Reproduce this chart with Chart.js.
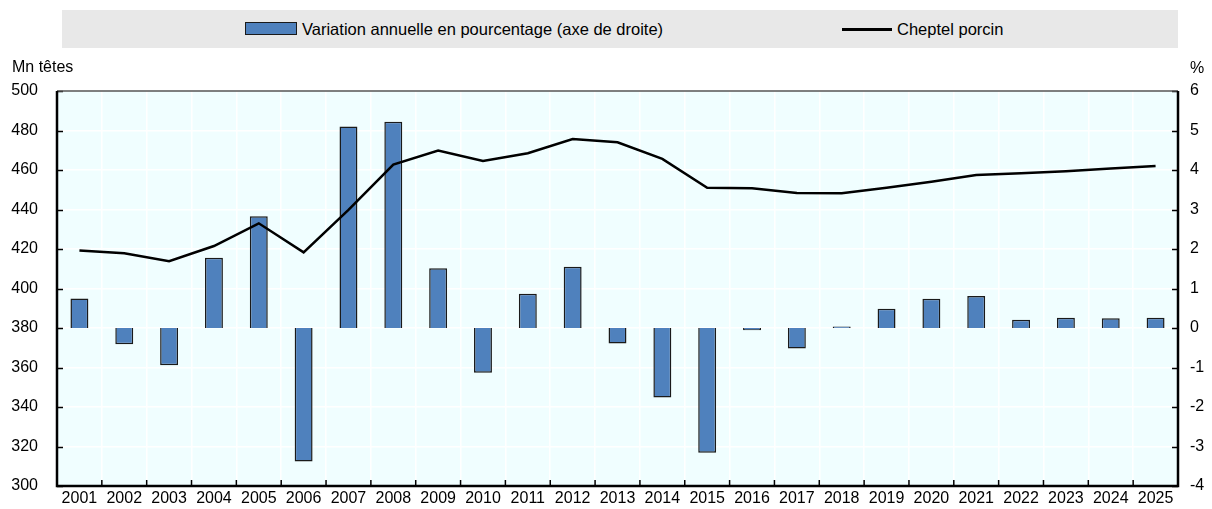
<!DOCTYPE html>
<html>
<head>
<meta charset="utf-8">
<script src="https://cdn.jsdelivr.net/npm/chart.js@4/dist/chart.umd.min.js"></script>
<style>
  body { margin: 0; background: #fff; }
  #wrap { position: relative; width: 1212px; height: 509px; font-family: "Liberation Sans", Arial, sans-serif; color: #000; }
  #legend { position: absolute; left: 62px; top: 10px; width: 1116px; height: 38px; background: #e8e8e8; }
  .sw-bar { position: absolute; left: 183px; top: 12px; width: 50px; height: 11px; background: #4f81bd; border: 1px solid #1a1a1a; }
  .sw-line { position: absolute; left: 780px; top: 18px; width: 50px; height: 3px; background: #000; }
  .lt { position: absolute; top: 9px; font-size: 16.5px; line-height: 20px; white-space: nowrap; }
  .axt { position: absolute; font-size: 16px; line-height: 20px; white-space: nowrap; }
  canvas { position: absolute; left: 0; top: 0; }
</style>
</head>
<body>
<div id="wrap">
  <canvas id="myChart" width="1212" height="509"></canvas>
  <div id="legend">
    <div class="sw-bar"></div>
    <div class="lt" style="left:240px">Variation annuelle en pourcentage (axe de droite)</div>
    <div class="sw-line"></div>
    <div class="lt" style="left:835px">Cheptel porcin</div>
  </div>
  <div class="axt" style="left:12px; top:57px">Mn têtes</div>
  <div class="axt" style="left:1190px; top:58px">%</div>
</div>
<script>
const years = ['2001', '2002', '2003', '2004', '2005', '2006', '2007', '2008', '2009', '2010',
    '2011', '2012', '2013', '2014', '2015', '2016', '2017', '2018', '2019', '2020',
    '2021', '2022', '2023', '2024', '2025'];

// Mn têtes (axe de gauche)
const cheptel = [419.3, 417.8, 413.8, 421.5, 433.0, 418.3, 439.8, 462.7, 469.8, 464.6,
    468.5, 475.7, 474.0, 465.6, 451.0, 450.7, 448.4, 448.2, 451.0, 454.0,
    457.5, 458.4, 459.4, 460.7, 462.0];

// variation annuelle en % (axe de droite)
const variation = [0.75, -0.41, -0.94, 1.78, 2.83, -3.38, 5.10, 5.22, 1.51, -1.13,
    0.87, 1.55, -0.39, -1.76, -3.16, -0.06, -0.52, 0.04, 0.49, 0.74,
    0.81, 0.21, 0.26, 0.25, 0.26];

const FONT = '"Liberation Sans", Arial, sans-serif';

// fond de la zone de tracé
const plotBg = {
    id: 'plotBg',
    beforeDraw(chart) {
        const a = chart.chartArea, ctx = chart.ctx;
        ctx.save();
        ctx.fillStyle = '#f0feff';
        ctx.fillRect(a.left, a.top, a.right - a.left, a.bottom - a.top);
        ctx.restore();
    }
};

// cadre + graduations vers l'intérieur
const frame = {
    id: 'frame',
    afterDraw(chart) {
        const a = chart.chartArea, ctx = chart.ctx;
        const yL = chart.scales.y, yR = chart.scales.y1;
        const n = years.length, w = (a.right - a.left) / n;
        ctx.save();
        ctx.strokeStyle = '#000';
        ctx.lineWidth = 1.5;
        ctx.beginPath();
        yL.ticks.forEach(t => {
            const p = Math.round(yL.getPixelForValue(t.value)) + 0.5;
            ctx.moveTo(a.left, p); ctx.lineTo(a.left + 6, p);
        });
        yR.ticks.forEach(t => {
            const p = Math.round(yR.getPixelForValue(t.value)) + 0.5;
            ctx.moveTo(a.right, p); ctx.lineTo(a.right - 6, p);
        });
        for (let i = 1; i < n; i++) {
            const x = a.left + i * w;
            ctx.moveTo(x, a.bottom); ctx.lineTo(x, a.bottom - 6);
        }
        ctx.stroke();
        ctx.strokeStyle = '#555';
        ctx.lineWidth = 1.5;
        ctx.beginPath();
        ctx.moveTo(a.left, a.top); ctx.lineTo(a.right, a.top);
        ctx.stroke();
        ctx.strokeStyle = '#000';
        ctx.lineWidth = 2.5;
        ctx.beginPath();
        ctx.moveTo(a.left, a.top); ctx.lineTo(a.left, a.bottom);
        ctx.lineTo(a.right, a.bottom); ctx.lineTo(a.right, a.top);
        ctx.stroke();
        ctx.restore();
    }
};

// largeur fixe des axes verticaux, sans marge haute/basse
function fixY(width) {
    return function (s) {
        s.width = width;
        s.paddingTop = 0;
        s.paddingBottom = 0;
    };
}

const ctx = document.getElementById('myChart').getContext('2d');

new Chart(ctx, {
    data: {
        labels: years,
        datasets: [
            {
                type: 'line',
                label: 'Cheptel porcin',
                data: cheptel,
                yAxisID: 'y',
                borderColor: '#000',
                borderWidth: 2.5,
                pointRadius: 0,
                tension: 0,
                order: 0,
            },
            {
                type: 'bar',
                label: 'Variation annuelle en pourcentage (axe de droite)',
                data: variation,
                yAxisID: 'y1',
                backgroundColor: '#4f81bd',
                borderColor: '#1a1a1a',
                borderWidth: 1.5,
                barPercentage: 0.4,
                categoryPercentage: 1,
                order: 1,
            },
        ],
    },
    options: {
        responsive: false,
        animation: false,
        layout: { padding: { top: 91, left: 0, right: 0, bottom: 0 } },
        plugins: {
            legend: { display: false },
            tooltip: { enabled: false },
        },
        scales: {
            x: {
                offset: true,
                grid: { color: '#fff', lineWidth: 1.5, offset: true, drawTicks: false },
                border: { display: false },
                ticks: { color: '#000', font: { family: FONT, size: 16 }, padding: 3, maxRotation: 0, autoSkip: false },
                afterFit(s) { s.height = 23; },
            },
            y: {
                position: 'left',
                min: 300,
                max: 500,
                grid: { color: '#fff', lineWidth: 1.5, drawTicks: false },
                border: { display: false },
                ticks: { stepSize: 20, color: '#000', font: { family: FONT, size: 16 }, padding: 19 },
                afterFit: fixY(57),
            },
            y1: {
                position: 'right',
                min: -4,
                max: 6,
                grid: { display: false, drawTicks: false },
                border: { display: false },
                ticks: { stepSize: 1, color: '#000', font: { family: FONT, size: 16 }, padding: 12 },
                afterFit: fixY(34),
            },
        },
    },
    plugins: [plotBg, frame],
});
</script>
</body>
</html>
